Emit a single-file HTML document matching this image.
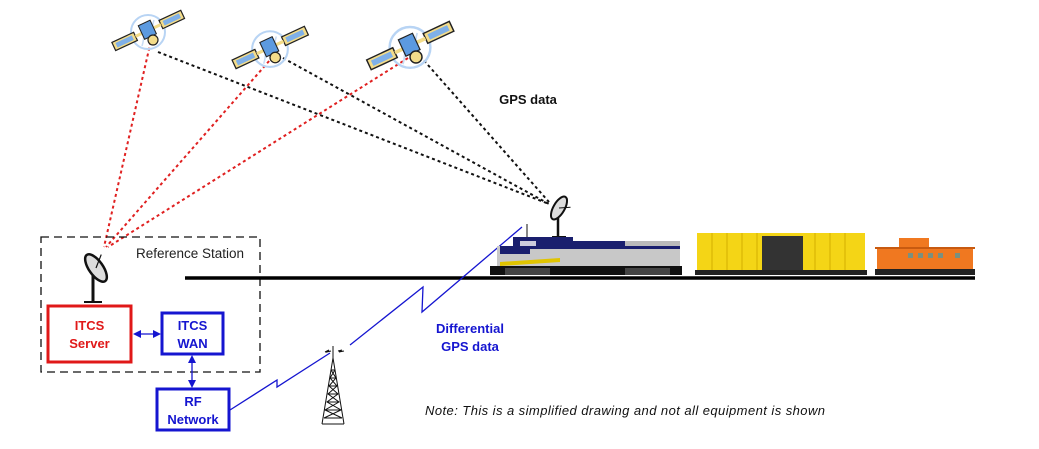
<!DOCTYPE html>
<html><head><meta charset="utf-8"><style>
html,body{margin:0;padding:0;background:#fff;width:1039px;height:449px;overflow:hidden}
svg{display:block}
text{font-family:"Liberation Sans",sans-serif}
</style></head><body>
<svg width="1039" height="449" viewBox="0 0 1039 449" xmlns="http://www.w3.org/2000/svg">
<defs>
<marker id="ab" markerWidth="8" markerHeight="8" refX="6" refY="4" orient="auto-start-reverse" markerUnits="userSpaceOnUse"><path d="M0,0 L8,4 L0,8z" fill="#1515d0"/></marker>
<g id="sat">
  <circle cx="0" cy="2" r="17" fill="none" stroke="#b8d4f4" stroke-width="2"/>
  <path d="M-8,-6 q6,10 2,22 M6,-10 q-4,12 4,22" stroke="#c8dcf4" fill="none" stroke-width="1.5"/>
  <g transform="rotate(-25)">
    <rect x="-38" y="-4" width="24" height="9" fill="#f3dc8a" stroke="#222" stroke-width="1.2"/>
    <rect x="-35" y="-2" width="18" height="5" fill="#7fb0e8"/>
    <rect x="14" y="-4" width="24" height="9" fill="#f3dc8a" stroke="#222" stroke-width="1.2"/>
    <rect x="17" y="-2" width="18" height="5" fill="#7fb0e8"/>
    <rect x="-14" y="-1" width="28" height="3" fill="#f3dc8a"/>
    <rect x="-7" y="-8" width="13" height="15" fill="#5c9ae0" stroke="#222" stroke-width="1"/>
  </g>
  <circle cx="5" cy="10" r="5" fill="#f3dc8a" stroke="#222" stroke-width="1.2"/>
</g>
<g id="dish">
  <ellipse cx="0" cy="0" rx="7" ry="16" fill="#ddd" stroke="#111" stroke-width="2.5"/>
  <line x1="0" y1="0" x2="12" y2="-8" stroke="#111" stroke-width="1.2"/>
</g>
</defs>

<g stroke="#e02020" stroke-width="2" stroke-dasharray="3,3" fill="none">
  <line x1="152" y1="36" x2="104" y2="247"/>
  <line x1="277" y1="52" x2="106" y2="247"/>
  <line x1="408" y1="58" x2="108" y2="247"/>
</g>
<g stroke="#111" stroke-width="2" stroke-dasharray="3,3" fill="none">
  <line x1="158" y1="52" x2="549" y2="204"/>
  <line x1="283" y1="58" x2="549" y2="204"/>
  <line x1="420" y1="56" x2="549" y2="202"/>
</g>

<use href="#sat" transform="translate(148,30)"/>
<use href="#sat" transform="translate(270,47) scale(1.05)"/>
<use href="#sat" transform="translate(410,45) scale(1.2)"/>

<rect x="41" y="237" width="219" height="135" fill="none" stroke="#111" stroke-width="1.3" stroke-dasharray="8,5"/>
<text x="136" y="258" font-size="13.5" fill="#222">Reference Station</text>

<line x1="185" y1="278" x2="975" y2="278" stroke="#000" stroke-width="3.5"/>

<line x1="93" y1="272" x2="93" y2="302" stroke="#111" stroke-width="3"/>
<path d="M84,302 h18" stroke="#111" stroke-width="2"/>
<g transform="translate(96,268) rotate(-35)"><use href="#dish"/></g>

<rect x="48" y="306" width="83" height="56" fill="#fff" stroke="#e01818" stroke-width="3"/>
<text x="89.5" y="330" font-size="13" font-weight="bold" fill="#e01818" text-anchor="middle">ITCS</text>
<text x="89.5" y="348" font-size="13" font-weight="bold" fill="#e01818" text-anchor="middle">Server</text>
<rect x="162" y="313" width="61" height="41" fill="#fff" stroke="#1515d0" stroke-width="3"/>
<text x="192.5" y="330" font-size="13" font-weight="bold" fill="#1515d0" text-anchor="middle">ITCS</text>
<text x="192.5" y="348" font-size="13" font-weight="bold" fill="#1515d0" text-anchor="middle">WAN</text>
<rect x="157" y="389" width="72" height="41" fill="#fff" stroke="#1515d0" stroke-width="3"/>
<text x="193" y="406" font-size="13" font-weight="bold" fill="#1515d0" text-anchor="middle">RF</text>
<text x="193" y="424" font-size="13" font-weight="bold" fill="#1515d0" text-anchor="middle">Network</text>
<line x1="135" y1="334" x2="159" y2="334" stroke="#1515d0" stroke-width="1.3" marker-start="url(#ab)" marker-end="url(#ab)"/>
<line x1="192" y1="357" x2="192" y2="386" stroke="#1515d0" stroke-width="1.3" marker-start="url(#ab)" marker-end="url(#ab)"/>

<polyline points="230,410 277,380 277,387 330,353" fill="none" stroke="#1515d0" stroke-width="1.3"/>
<polyline points="350,345 423,287 422,312 522,227" fill="none" stroke="#1515d0" stroke-width="1.3"/>

<g stroke="#111" stroke-width="1" fill="none">
  <path d="M333,358 L322,424 M333,358 L344,424 M322,424 h22"/>
  <path d="M331,370 h4 M330,378 h6 M329,386 h8 M328,394 h10 M327,402 h12 M325,410 h16 M324,418 h18"/>
  <path d="M331,370 L336,378 L329,386 L338,394 L327,402 L341,410 L324,418 M335,370 L330,378 L337,386 L328,394 L339,402 L325,410 L342,418"/>
  <path d="M333,358 v-12 M325,352 l4,-2 l-2,2 l4,-1 M338,351 l4,-1 l-3,2 l5,-1"/>
</g>

<text x="470" y="333" font-size="13" font-weight="bold" fill="#1515d0" text-anchor="middle">Differential</text>
<text x="470" y="351" font-size="13" font-weight="bold" fill="#1515d0" text-anchor="middle">GPS data</text>
<text x="528" y="104" font-size="13" font-weight="bold" fill="#111" text-anchor="middle">GPS data</text>
<text x="425" y="415" font-size="13" font-style="italic" fill="#111" textLength="400" lengthAdjust="spacing">Note:  This is a simplified drawing and not all equipment is shown</text>

<line x1="558" y1="218" x2="558" y2="237" stroke="#111" stroke-width="2.5"/>
<path d="M552,237 h14" stroke="#111" stroke-width="2"/>
<g transform="translate(559,208) rotate(30)"><use href="#dish" transform="scale(0.8)"/></g>
<line x1="527" y1="224" x2="527" y2="238" stroke="#111" stroke-width="1"/>

<rect x="497" y="246" width="183" height="22" fill="#c8c8c8"/>
<rect x="513" y="237" width="60" height="12" fill="#1a1f6e"/>
<rect x="573" y="241" width="107" height="8" fill="#1a1f6e"/>
<rect x="625" y="241" width="55" height="5" fill="#bbb"/>
<rect x="500" y="246" width="30" height="8" fill="#1a1f6e"/>
<rect x="520" y="241" width="16" height="5" fill="#ccd"/>
<path d="M500,262 L560,258 L560,262 L500,266z" fill="#e0c400"/>
<rect x="490" y="266" width="192" height="9" fill="#111"/>
<rect x="505" y="268" width="45" height="7" fill="#444"/>
<rect x="625" y="268" width="45" height="7" fill="#444"/>
<rect x="697" y="233" width="168" height="38" fill="#f4d516"/>
<g stroke="#d4b000" stroke-width="1"><path d="M712,233v38 M727,233v38 M742,233v38 M757,233v38 M815,233v38 M830,233v38 M845,233v38"/></g>
<rect x="762" y="236" width="41" height="35" fill="#333"/>
<rect x="695" y="270" width="172" height="5" fill="#222"/>
<rect x="899" y="238" width="30" height="10" fill="#f07820"/>
<rect x="877" y="248" width="96" height="22" fill="#f07820"/>
<rect x="875" y="247" width="100" height="2" fill="#c85a10"/>
<g fill="#7a9080"><rect x="908" y="253" width="5" height="5"/><rect x="918" y="253" width="5" height="5"/><rect x="928" y="253" width="5" height="5"/><rect x="938" y="253" width="5" height="5"/><rect x="955" y="253" width="5" height="5"/></g>
<rect x="875" y="269" width="100" height="6" fill="#222"/>
</svg>
</body></html>
